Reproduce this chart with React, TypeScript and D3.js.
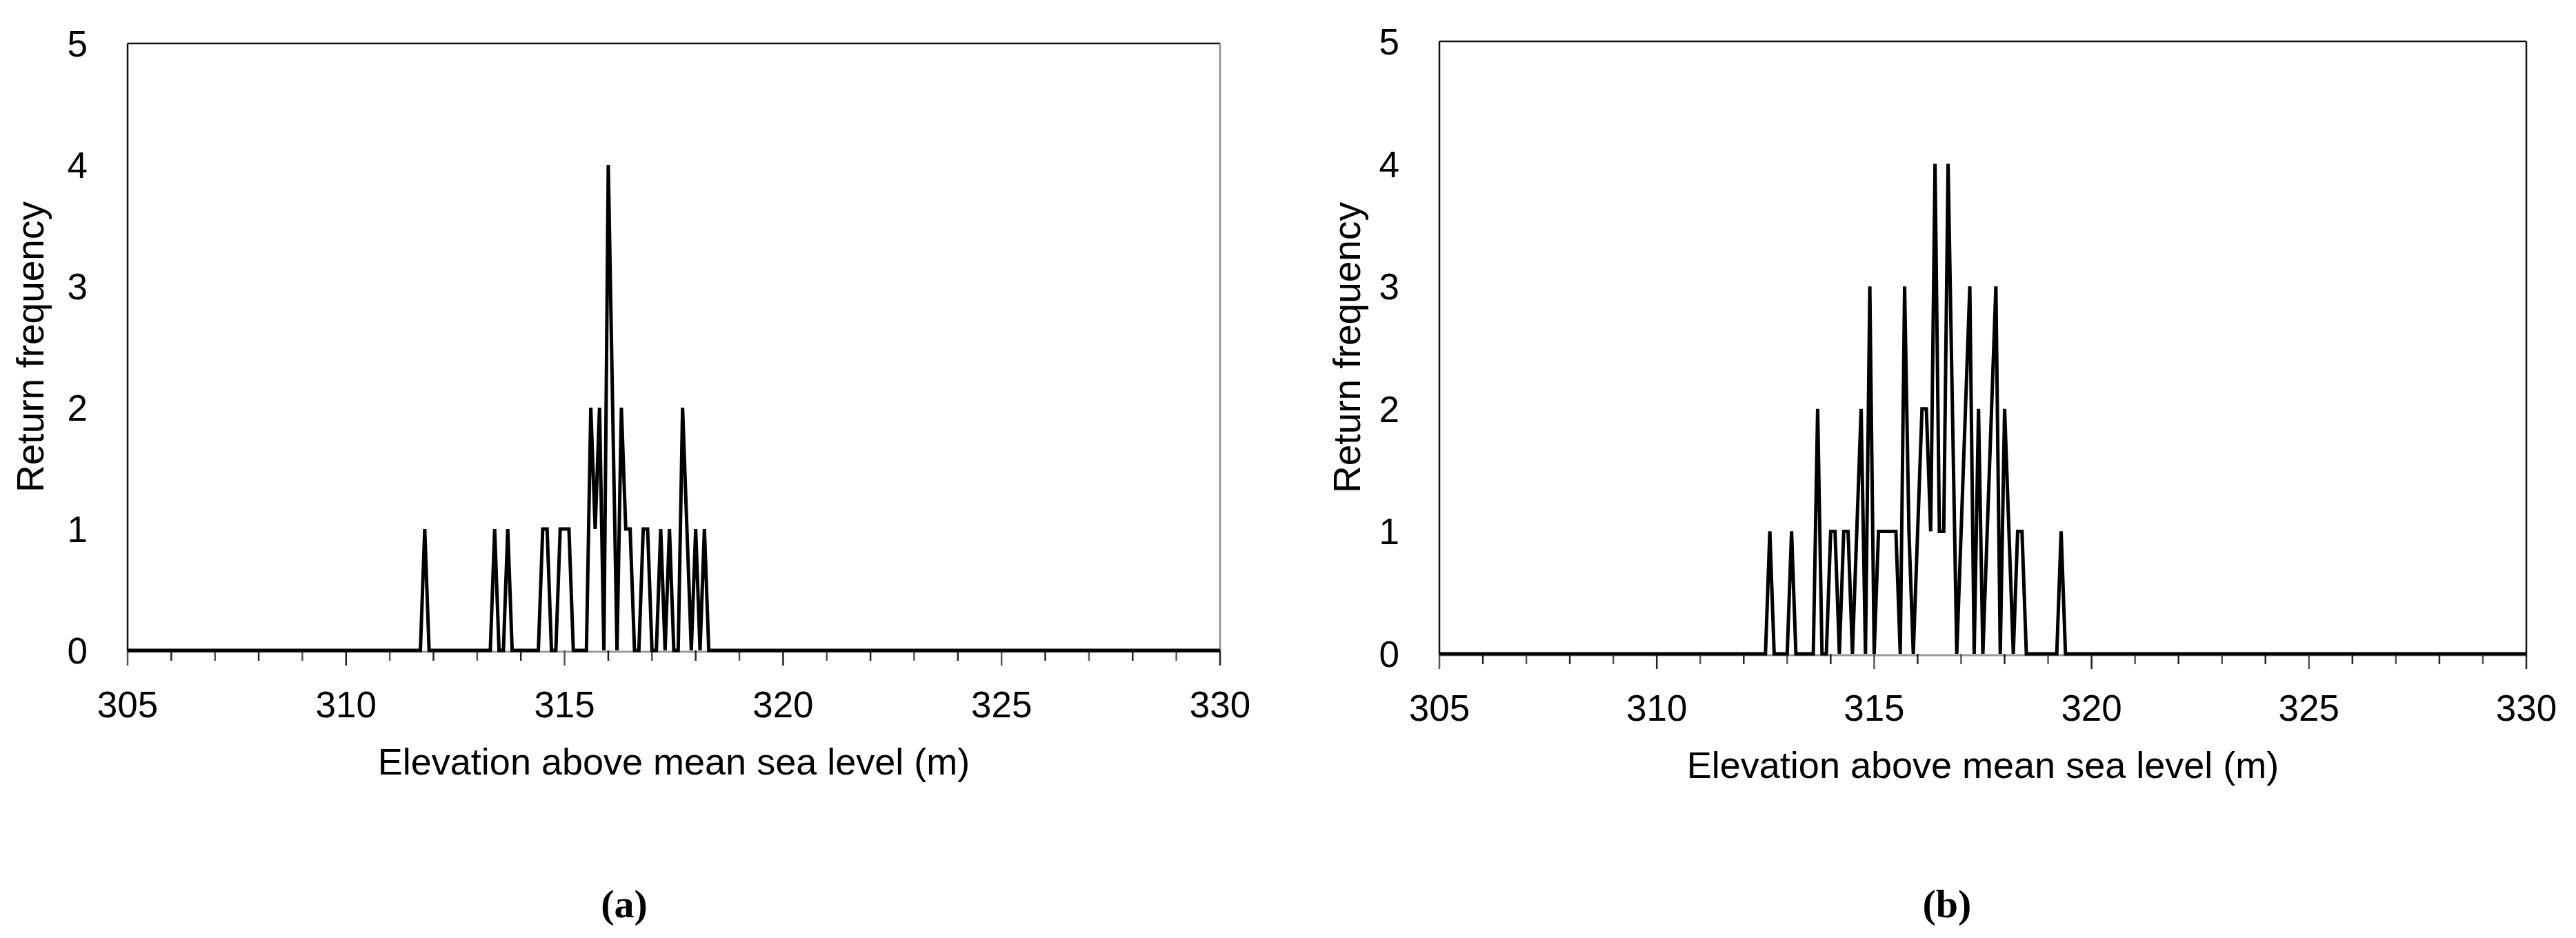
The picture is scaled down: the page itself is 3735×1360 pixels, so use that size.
import React from "react";
import * as d3 from "d3";

const W = 3735;
const H = 1360;

// elevation (m) vs return frequency, panel (a)
const seriesA: [number, number][] = [
  [305, 0], [311.7, 0], [311.8, 1], [311.9, 0], [313.3, 0], [313.4, 1], [313.5, 0], [313.6, 0],
  [313.7, 1], [313.8, 0], [314.4, 0], [314.5, 1], [314.6, 1], [314.7, 0], [314.8, 0], [314.9, 1],
  [315.0, 1], [315.1, 1], [315.2, 0], [315.5, 0], [315.6, 2], [315.7, 1], [315.8, 2], [315.9, 0],
  [316.0, 4], [316.1, 2], [316.2, 0], [316.3, 2], [316.4, 1], [316.5, 1], [316.6, 0], [316.7, 0],
  [316.8, 1], [316.9, 1], [317.0, 0], [317.1, 0], [317.2, 1], [317.3, 0], [317.4, 1], [317.5, 0],
  [317.6, 0], [317.7, 2], [317.8, 1], [317.9, 0], [318.0, 1], [318.1, 0], [318.2, 1], [318.3, 0],
  [330, 0],
];

// elevation (m) vs return frequency, panel (b)
const seriesB: [number, number][] = [
  [305, 0], [312.5, 0], [312.6, 1], [312.7, 0], [313.0, 0], [313.1, 1], [313.2, 0], [313.6, 0],
  [313.7, 2], [313.8, 0], [313.9, 0], [314.0, 1], [314.1, 1], [314.2, 0], [314.3, 1], [314.4, 1],
  [314.5, 0], [314.6, 1], [314.7, 2], [314.8, 0], [314.9, 3], [315.0, 0], [315.1, 1], [315.2, 1],
  [315.3, 1], [315.4, 1], [315.5, 1], [315.6, 0], [315.7, 3], [315.8, 1], [315.9, 0], [316.0, 1],
  [316.1, 2], [316.2, 2], [316.3, 1], [316.4, 4], [316.5, 1], [316.6, 1], [316.7, 4], [316.8, 2],
  [316.9, 0], [317.0, 1], [317.1, 2], [317.2, 3], [317.3, 0], [317.4, 2], [317.5, 0], [317.6, 1],
  [317.7, 2], [317.8, 3], [317.9, 0], [318.0, 2], [318.1, 1], [318.2, 0], [318.3, 1], [318.4, 1],
  [318.5, 0], [319.2, 0], [319.3, 1], [319.4, 0], [330, 0],
];

const xDomain = [305, 330];
const yDomain = [0, 5];
const xTickLabels = [305, 310, 315, 320, 325, 330];
const yTickLabels = [0, 1, 2, 3, 4, 5];
const xTitle = "Elevation above mean sea level (m)";
const yTitle = "Return frequency";
const panelLabels = ["(a)", "(b)"];

const SANS = "'Liberation Sans', Arial, sans-serif";

type PanelProps = {
  data: [number, number][];
  left: number;
  right: number;
  top: number;
  bottom: number;
  yTitleX: number;
  label: string;
  labelX: number;
  rightColor: string;
};

function Panel({ data, left, right, top, bottom, yTitleX, label, labelX, rightColor }: PanelProps) {
  const x = d3.scaleLinear().domain(xDomain).range([left, right]);
  const y = d3.scaleLinear().domain(yDomain).range([bottom, top]);
  const line = d3
    .line<[number, number]>()
    .x((d) => x(d[0]))
    .y((d) => y(d[1]));
  const ticks = x.ticks(25);
  const y0 = y(0);
  return (
    <g>
      {/* x axis line (grey) */}
      <line x1={left} x2={right} y1={y0 + 2} y2={y0 + 2} stroke="#9a9a9a" strokeWidth={3} />
      {ticks.map((t) => (
        <line
          key={"t" + t}
          x1={x(t)}
          x2={x(t)}
          y1={y0}
          y2={y0 + (t % 5 === 0 ? 22 : 15)}
          stroke={t % 2 === 0 ? "#222" : "#555"}
          strokeWidth={2.5}
        />
      ))}
      {/* frame */}
      <line x1={left} x2={right} y1={top} y2={top} stroke="#111" strokeWidth={2.5} />
      <line x1={left} x2={left} y1={top} y2={y0} stroke="#111" strokeWidth={2.5} />
      <line x1={right} x2={right} y1={top} y2={y0} stroke={rightColor} strokeWidth={2.5} />
      {/* data */}
      <path d={line(data) || ""} fill="none" stroke="#000" strokeWidth={5} strokeLinejoin="miter" />
      {/* y tick labels */}
      {yTickLabels.map((v) => (
        <text
          key={"y" + v}
          x={left - 58}
          y={y(v)}
          dy="0.36em"
          textAnchor="end"
          fontFamily={SANS}
          fontSize={53}
          fill="#000"
        >
          {v}
        </text>
      ))}
      {/* x tick labels */}
      {xTickLabels.map((v) => (
        <text
          key={"x" + v}
          x={x(v)}
          y={y0 + 97}
          textAnchor="middle"
          fontFamily={SANS}
          fontSize={53}
          fill="#000"
        >
          {v}
        </text>
      ))}
      <text
        x={(left + right) / 2}
        y={y0 + 180}
        textAnchor="middle"
        fontFamily={SANS}
        fontSize={54}
        fill="#000"
      >
        {xTitle}
      </text>
      <text
        transform={`translate(${yTitleX},${(top + bottom) / 2}) rotate(-90)`}
        textAnchor="middle"
        fontFamily={SANS}
        fontSize={55}
        fill="#000"
      >
        {yTitle}
      </text>
      <text
        x={labelX}
        y={1330}
        textAnchor="middle"
        fontFamily="'Liberation Serif', serif"
        fontWeight="bold"
        fontSize={58}
        fill="#000"
      >
        {label}
      </text>
    </g>
  );
}

export default function App() {
  return (
    <div style={{ position: "fixed", left: 0, top: 0, width: W, height: H, background: "#fff" }}>
      <svg width={W} height={H} viewBox={`0 0 ${W} ${H}`} style={{ display: "block" }}>
        <rect x={0} y={0} width={W} height={H} fill="#fff" />
        <Panel
          data={seriesA}
          left={185}
          right={1769}
          top={63}
          bottom={943}
          yTitleX={63}
          label={panelLabels[0]}
          labelX={905}
          rightColor="#8a8a8a"
        />
        <Panel
          data={seriesB}
          left={2087}
          right={3663}
          top={60}
          bottom={948}
          yTitleX={1972}
          label={panelLabels[1]}
          labelX={2823}
          rightColor="#111"
        />
      </svg>
    </div>
  );
}
